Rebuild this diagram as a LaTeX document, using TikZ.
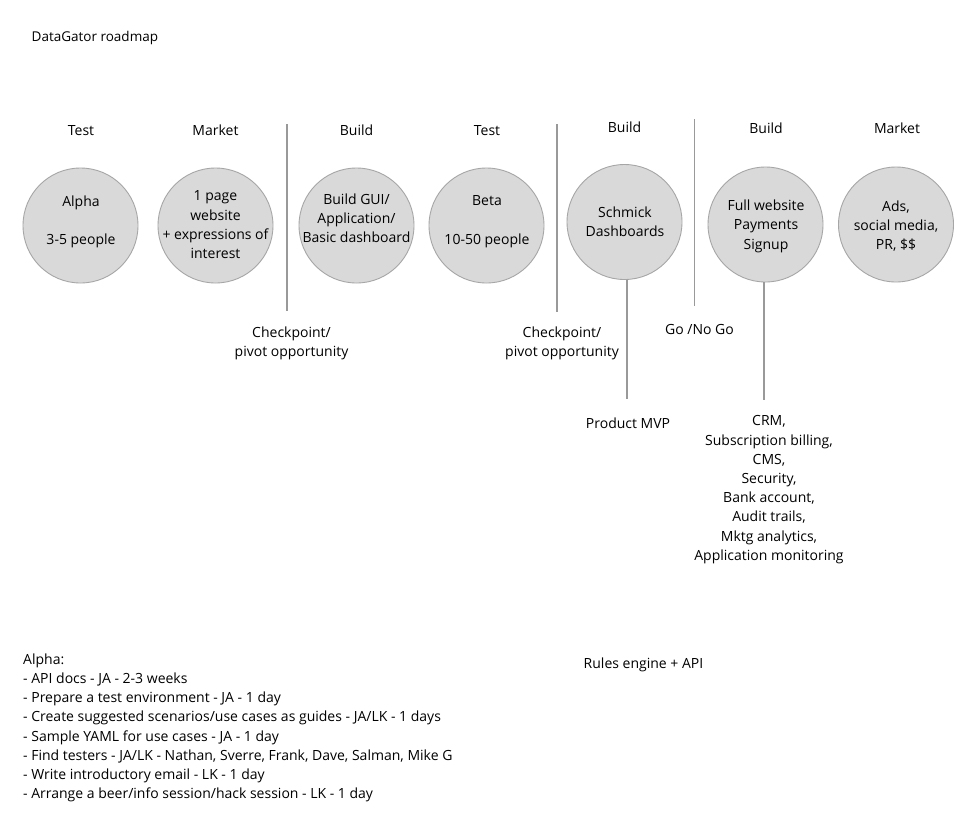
\documentclass[tikz,border=0pt]{standalone}
\usepackage{fontspec}
\setmainfont{Open Sans}
\definecolor{circfill}{HTML}{D9D9D9}
\definecolor{circline}{HTML}{A6A6A6}
\definecolor{sepline}{HTML}{999999}
\definecolor{txt}{HTML}{000000}
\begin{document}
\begin{tikzpicture}[x=1pt,y=-1pt,
  phase/.style={circle,minimum size=115pt,inner sep=0pt,fill=circfill,draw=circline,line width=0.9pt},
  lbl/.style={inner sep=0pt,align=center,text=txt,yshift=-1.2pt,font=\fontsize{14}{19.2}\selectfont},
  lft/.style={inner sep=0pt,align=left,text=txt,font=\fontsize{14}{19.2}\selectfont},
  sep/.style={draw=sepline,line width=1.2pt}]
\useasboundingbox (0,0) rectangle (980,831);
\fill[white] (0,0) rectangle (980,831);

\node[lft,anchor=west,font=\fontsize{13.5}{19.2}\selectfont] (title) at (31.5,38) {DataGator roadmap};

% phase headings
\node[lbl] (h1) at (81,129) {Test};
\node[lbl] (h2) at (215.5,129) {Market};
\node[lbl] (h3) at (356.5,129) {Build};
\node[lbl] (h4) at (487,129) {Test};
\node[lbl] (h5) at (624.5,126) {Build};
\node[lbl] (h6) at (766,127) {Build};
\node[lbl] (h7) at (897,127) {Market};

% circles
\node[phase] (c1) at (80.5,225.5) {};
\node[phase] (c2) at (215.5,225.5) {};
\node[phase] (c3) at (356.5,225.5) {};
\node[phase] (c4) at (486.5,225.5) {};
\node[phase] (c5) at (624.5,222) {};
\node[phase] (c6) at (765.5,224.5) {};
\node[phase] (c7) at (896,224.5) {};

% circle texts
\node[lbl] (t1) at (81,220.5) {Alpha\\[19.2pt]3-5 people};
\node[lbl] (t2) at (215.5,223.5) {1 page\\website\\+ expressions of\\interest};
\node[lbl] (t3) at (356.5,217) {Build GUI/\\Application/\\Basic dashboard};
\node[lbl] (t4) at (487,220.5) {Beta\\[19.2pt]10-50 people};
\node[lbl] (t5) at (625,220.5) {Schmick\\Dashboards};
\node[lbl] (t6) at (766,225) {Full website\\Payments\\Signup};
\node[lbl] (t7) at (896,225) {Ads,\\social media,\\PR, \$\$};

% separators
\coordinate (s1t) at (287,124); \coordinate (s1b) at (287,311);
\coordinate (s2t) at (557,124); \coordinate (s2b) at (557,312);
\coordinate (s3t) at (694.5,119); \coordinate (s3b) at (694.5,306);
\draw[sep] (s1t) -- (s1b);
\draw[sep] (s2t) -- (s2b);
\draw[sep] (s3t) -- (s3b);

% milestone labels
\node[lbl] (cp1) at (291.5,342) {Checkpoint/\\pivot opportunity};
\node[lbl] (cp2) at (562,342) {Checkpoint/\\pivot opportunity};
\node[lbl] (go) at (699.5,328) {Go /No Go};

% connectors below circles
\coordinate (m5) at (627,399);
\coordinate (m6) at (764,400);
\draw[sep] (c5.south -| m5) -- (m5);
\draw[sep] (c6.south -| m6) -- (m6);

\node[lbl] (mvp) at (628,422) {Product MVP};
\node[lbl] (ops) at (769,488.5) {CRM,\\Subscription billing,\\CMS,\\Security,\\Bank account,\\Audit trails,\\Mktg analytics,\\Application monitoring};

\node[lbl] (rules) at (643.5,664) {Rules engine + API};

\node[lft,anchor=north west] (alpha) at (23,653.5) {Alpha:\\- API docs - JA - 2-3 weeks\\- Prepare a test environment - JA - 1 day\\- Create suggested scenarios/use cases as guides - JA/LK - 1 days\\- Sample YAML for use cases - JA - 1 day\\- Find testers - JA/LK - Nathan, Sverre, Frank, Dave, Salman, Mike G\\- Write introductory email - LK - 1 day\\- Arrange a beer/info session/hack session - LK - 1 day};
\end{tikzpicture}
\end{document}
